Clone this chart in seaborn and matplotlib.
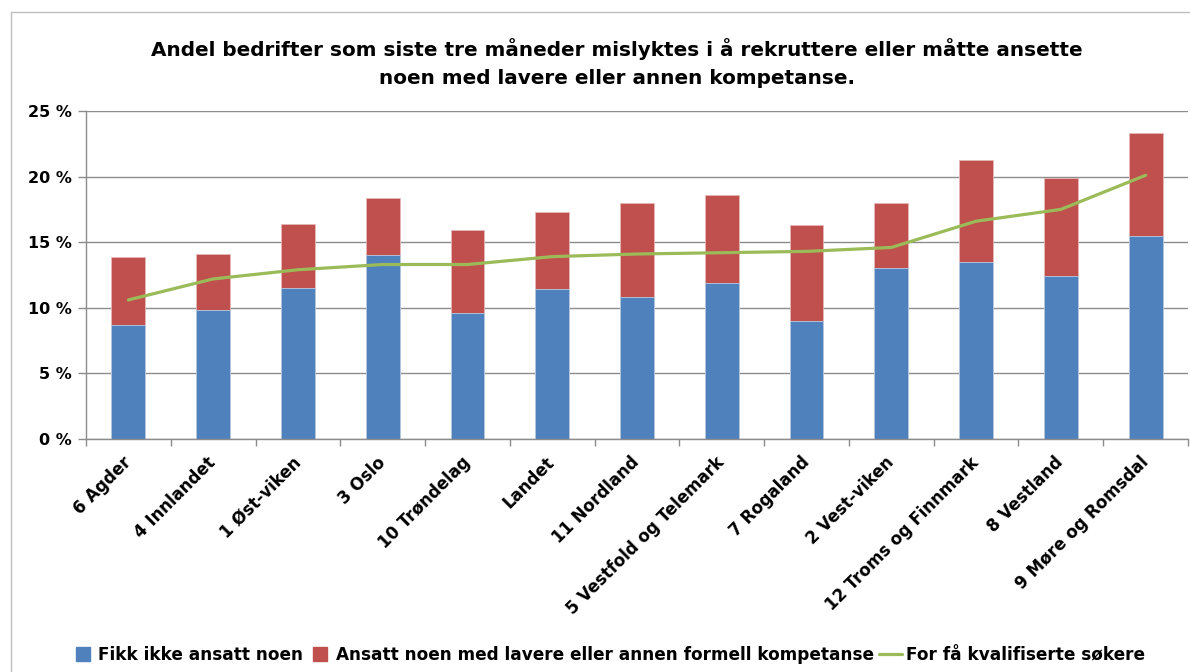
import matplotlib
matplotlib.use("Agg")
import matplotlib.pyplot as plt
import seaborn as sns
from matplotlib.lines import Line2D

# data (percent)
regions = ["6 Agder", "4 Innlandet", "1 Øst-viken", "3 Oslo", "10 Trøndelag", "Landet",
           "11 Nordland", "5 Vestfold og Telemark", "7 Rogaland", "2 Vest-viken",
           "12 Troms og Finnmark", "8 Vestland", "9 Møre og Romsdal"]
fikk_ikke = [8.7, 9.8, 11.5, 14.0, 9.6, 11.4, 10.8, 11.9, 9.0, 13.0, 13.5, 12.4, 15.5]
lavere_komp = [5.2, 4.3, 4.9, 4.4, 6.3, 5.9, 7.2, 6.7, 7.3, 5.0, 7.8, 7.5, 7.8]
for_faa = [10.6, 12.2, 12.9, 13.3, 13.3, 13.9, 14.1, 14.2, 14.3, 14.6, 16.6, 17.5, 20.1]

labels = ["Fikk ikke ansatt noen",
          "Ansatt noen med lavere eller annen formell kompetanse",
          "For få kvalifiserte søkere"]
title = ("Andel bedrifter som siste tre måneder mislyktes i å rekruttere eller måtte ansette\n"
         "noen med lavere eller annen kompetanse.")

BLUE = "#4F81BD"
RED = "#C0504D"
GREEN = "#9BBB59"
GRID = "#8C8C8C"

sns.set_theme(style="white")
plt.rcParams["font.family"] = ["DejaVu Sans"]
plt.rcParams["text.color"] = "black"

W, H = 1190, 672
fig = plt.figure(figsize=(W / 100, H / 100), dpi=100)
ax = fig.add_axes([86 / W, 1 - 439 / H, (1188 - 86) / W, (439 - 111) / H])

totals = [a + b for a, b in zip(fikk_ikke, lavere_komp)]
sns.barplot(x=regions, y=totals, color=RED, width=0.4, saturation=1, ax=ax,
            edgecolor="#E6B8B7", linewidth=0.6)
sns.barplot(x=regions, y=fikk_ikke, color=BLUE, width=0.4, saturation=1, ax=ax,
            edgecolor="#B9CDE5", linewidth=0.6)
sns.pointplot(x=regions, y=for_faa, color=GREEN, markers="", linewidth=2.3, ax=ax)

ax.set_xlim(-0.5, len(regions) - 0.5)
ax.set_ylim(0, 25)
ax.set_yticks([0, 5, 10, 15, 20, 25])
ax.set_yticklabels([f"{v} %" for v in [0, 5, 10, 15, 20, 25]],
                   fontsize=11.5, fontweight="bold")
ax.set_xlabel("")
ax.set_ylabel("")

ax.set_xticks(range(len(regions)))
ax.set_xticklabels(regions, rotation=45, ha="right", va="center",
                   rotation_mode="anchor", fontsize=12, fontweight="bold")
ax.set_xticks([i - 0.5 for i in range(len(regions) + 1)], minor=True)
ax.tick_params(axis="x", which="major", length=0, pad=15, labelcolor="black")
ax.tick_params(axis="x", which="minor", length=5, color=GRID, width=1, bottom=True)
ax.tick_params(axis="y", length=6, color=GRID, width=1, left=True, pad=4,
               labelcolor="black")

ax.yaxis.grid(True, color=GRID, linewidth=1)
ax.xaxis.grid(False)
ax.set_axisbelow(True)
for s in ["top", "right"]:
    ax.spines[s].set_visible(False)
for s in ["left", "bottom"]:
    ax.spines[s].set_color(GRID)
    ax.spines[s].set_linewidth(1)

fig.text(617 / W, 1 - 63 / H, title, ha="center", va="center",
         fontsize=14.4, fontweight="bold", linespacing=1.6, color="black")

handles = [
    Line2D([], [], marker="s", linestyle="", markersize=10, color=BLUE),
    Line2D([], [], marker="s", linestyle="", markersize=10, color=RED),
    Line2D([], [], color=GREEN, linewidth=2.3),
]
fig.legend(handles, labels, loc="center", bbox_to_anchor=(608 / W, 1 - 655 / H),
           ncol=3, frameon=False, handlelength=1.4, handletextpad=0.2,
           columnspacing=0.3, labelcolor="black",
           prop={"size": 12.2, "weight": "bold"})

# chart frame edges
fig.add_artist(Line2D([11 / W, 11 / W], [0, 1 - 12 / H], color="#BFBFBF", lw=1,
                      transform=fig.transFigure))
fig.add_artist(Line2D([11 / W, 1], [1 - 12 / H, 1 - 12 / H], color="#BFBFBF", lw=1,
                      transform=fig.transFigure))

fig.savefig("out.png", dpi=100)
